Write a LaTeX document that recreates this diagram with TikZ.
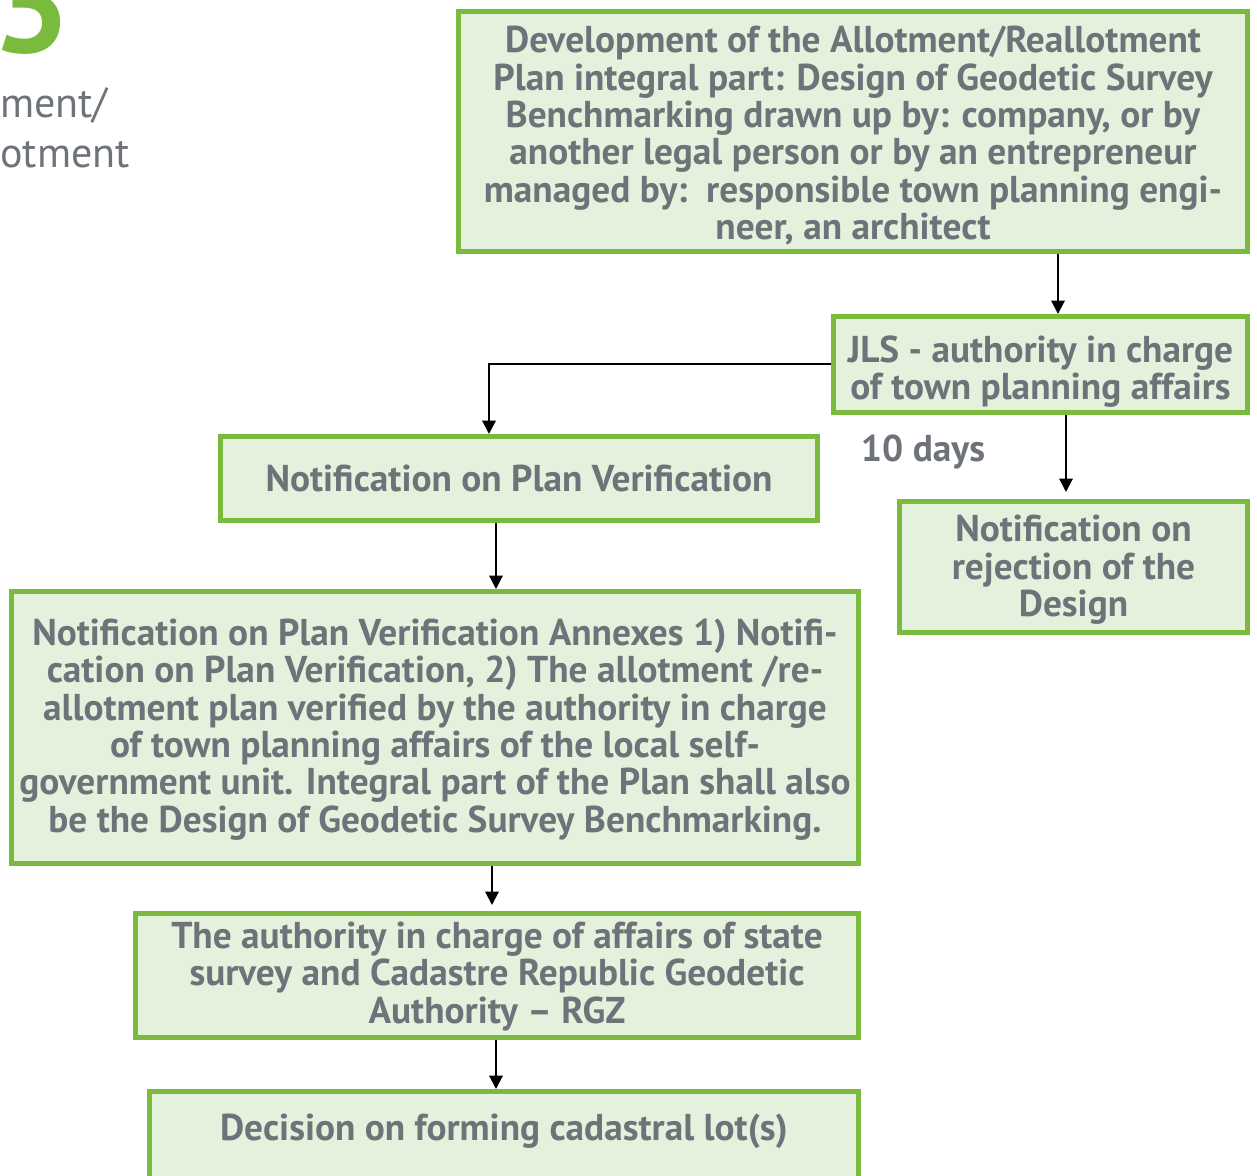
\documentclass[tikz,border=0pt]{standalone}
\usepackage{fontspec}
\setmainfont{PT Sans}
\usetikzlibrary{arrows.meta,calc}
\definecolor{txt}{RGB}{110,115,122}
\definecolor{boxfill}{RGB}{228,241,220}
\definecolor{boxline}{RGB}{122,186,60}
\tikzset{
  stepfont/.style={font=\fontsize{28}{28}\selectfont\bfseries},
  stepbox/.style={draw=boxline, line width=3.75pt, fill=boxfill, inner sep=0pt},
  steptext/.style={text=txt, align=center, inner sep=0pt, stepfont},
  arr/.style={draw=black, line width=1.5pt, -{Triangle[length=10pt,width=10pt]}},
}
\begin{document}
\begin{tikzpicture}[x=0.75pt,y=-0.75pt]
\useasboundingbox (0,0) rectangle (1257,1176);
\clip (0,0) rectangle (1257,1176);

% section heading in the margin
\node[anchor=base east, inner sep=0pt, text=boxline,
  font=\fontsize{104}{104}\selectfont\bfseries] (num) at (70,53) {3};
\node[anchor=base west, inner sep=0pt, text=txt,
  font=\fontsize{31.5}{31.5}\selectfont] (h1) at (0,118) {ment/};
\node[anchor=base west, inner sep=0pt, text=txt,
  font=\fontsize{31.5}{31.5}\selectfont] (h2) at (0,168) {otment};

% process step frames
\node[stepbox, minimum width={789*0.75pt}, minimum height={240*0.75pt}] (b1) at (853,131.5) {};
\node[stepbox, minimum width={414*0.75pt}, minimum height={96*0.75pt}] (b2) at (1040.5,364.5) {};
\node[stepbox, minimum width={597*0.75pt}, minimum height={84*0.75pt}] (b3) at (519,478.5) {};
\node[stepbox, minimum width={348*0.75pt}, minimum height={131*0.75pt}] (b4) at (1073.5,567) {};
\node[stepbox, minimum width={847*0.75pt}, minimum height={272*0.75pt}] (b5) at (435,727.5) {};
\node[stepbox, minimum width={723*0.75pt}, minimum height={124*0.75pt}] (b6) at (497,975.5) {};
\node[stepbox, anchor=north, minimum width={709*0.75pt}, minimum height={120*0.75pt}] (b7) at (504,1089) {};

% step texts
\node[steptext] (b1t) at ($(b1.center)+(0,4)$)
  {Development of the Allotment/Reallotment\\Plan integral part: Design of Geodetic Survey\\Benchmarking drawn up by: company, or by\\another legal person or by an entrepreneur\\managed by:\ \ responsible town planning engi-\\neer, an architect};
\node[steptext] (b2t) at ($(b2.center)+(0,7)$)
  {JLS - authority in charge\\of town planning affairs};
\node[steptext] (b3t) at (b3.center)
  {Notification on Plan Verification};
\node[steptext] (b4t) at ($(b4.center)+(0,3)$)
  {Notification on\\rejection of the\\Design};
\node[steptext] (b5t) at ($(b5.center)+(0,2)$)
  {Notification on Plan Verification Annexes 1) Notifi-\\cation on Plan Verification, 2) The allotment /re-\\allotment plan verified by the authority in charge\\of town planning affairs of the local self-\\government unit. Integral part of the Plan shall also\\be the Design of Geodetic Survey Benchmarking.};
\node[steptext] (b6t) at ($(b6.center)+(0,1)$)
  {The authority in charge of affairs of state\\survey and Cadastre Republic Geodetic\\Authority – RGZ};
\node[steptext, anchor=base] (b7t) at ($(b7.north)+(0,51)$)
  {Decision on forming cadastral lot(s)};

\node[inner sep=0pt, text=txt, stepfont] (days) at (923,452) {10 days};

% connectors
\draw[arr] ($(b1.south)+(205,0)$) coordinate (t1) -- (t1 |- b2.north);
\draw[arr] (b2.west) -| ($(b3.north)+(-30,0)$);
\draw[arr] ($(b2.south)+(25.5,0)$) coordinate (t2) -- ($(t2 |- b4.north)+(0,-7)$);
\draw[arr] ($(b3.south)+(-23,0)$) coordinate (t3) -- (t3 |- b5.north);
\draw[arr] ($(b5.south)+(57,0)$) coordinate (t4) -- ($(t4 |- b6.north)+(0,-6)$);
\draw[arr] ($(b6.south)+(-1,0)$) coordinate (t5) -- (t5 |- b7.north);
\end{tikzpicture}
\end{document}
